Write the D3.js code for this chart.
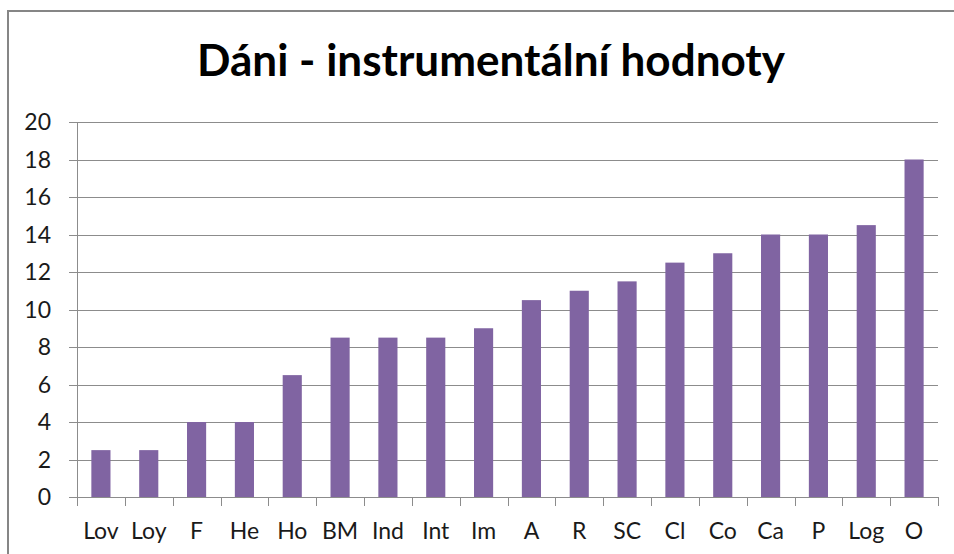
<!DOCTYPE html>
<html>
<head>
<meta charset="utf-8">
<script src="https://cdn.jsdelivr.net/npm/d3@7"></script>
<style>
  body { margin: 0; background: #fff; }
  svg { display: block; font-family: Lato, "Open Sans", sans-serif; }
</style>
</head>
<body>
<div id="chart"></div>
<script>
// data
const categories = ["Lov", "Loy", "F", "He", "Ho", "BM", "Ind", "Int", "Im", "A", "R", "SC", "Cl", "Co", "Ca", "P", "Log", "O"];
const values = [2.5, 2.5, 4, 4, 6.5, 8.5, 8.5, 8.5, 9, 10.5, 11, 11.5, 12.5, 13, 14, 14, 14.5, 18];
const yTicks = [0, 2, 4, 6, 8, 10, 12, 14, 16, 18, 20];
const title = "Dáni - instrumentální hodnoty";

const width = 954;
const height = 554;
const margin = {top: 122, right: 16, bottom: 57, left: 77};

const svg = d3.select("#chart").append("svg")
    .attr("width", width)
    .attr("height", height);

// outer chart border
svg.append("rect")
    .attr("x", 8)
    .attr("y", 11)
    .attr("width", 980)
    .attr("height", 600)
    .attr("fill", "none")
    .attr("stroke", "#868686")
    .attr("stroke-width", 2);

const x = d3.scaleBand()
    .domain(categories)
    .range([margin.left, width - margin.right])
    .paddingInner(0.6)
    .paddingOuter(0.3);

const y = d3.scaleLinear()
    .domain([0, 20])
    .range([height - margin.bottom, margin.top]);

// gridlines
svg.append("g")
    .selectAll("line")
    .data(yTicks)
    .join("line")
    .attr("x1", margin.left - 8)
    .attr("x2", width - margin.right)
    .attr("y1", d => Math.round(y(d)) + 0.5)
    .attr("y2", d => Math.round(y(d)) + 0.5)
    .attr("stroke", "#8c8c8c")
    .attr("stroke-width", 1);

// y labels
svg.append("g")
    .selectAll("text")
    .data(yTicks)
    .join("text")
    .attr("x", 51)
    .attr("y", d => y(d))
    .attr("dy", "0.35em")
    .attr("text-anchor", "end")
    .attr("font-size", 23)
    .attr("fill", "#1a1a1a")
    .text(d => d);

// bars
svg.append("g")
    .selectAll("rect")
    .data(values)
    .join("rect")
    .attr("x", (d, i) => x(categories[i]))
    .attr("y", d => y(d))
    .attr("width", x.bandwidth())
    .attr("height", d => y(0) - y(d))
    .attr("fill", "#8064a2");

// y axis line
svg.append("line")
    .attr("x1", margin.left + 0.5)
    .attr("x2", margin.left + 0.5)
    .attr("y1", margin.top)
    .attr("y2", y(0))
    .attr("stroke", "#8c8c8c");

// x axis ticks between categories
const step = x.step();
const x0 = x(categories[0]) - x.paddingOuter() * step;
svg.append("g")
    .selectAll("line")
    .data(d3.range(categories.length + 1))
    .join("line")
    .attr("x1", i => Math.round(x0 + i * step) + 0.5)
    .attr("x2", i => Math.round(x0 + i * step) + 0.5)
    .attr("y1", y(0))
    .attr("y2", y(0) + 9)
    .attr("stroke", "#8c8c8c");

// x labels
svg.append("g")
    .selectAll("text")
    .data(categories)
    .join("text")
    .attr("x", d => x(d) + x.bandwidth() / 2)
    .attr("y", 539)
    .attr("text-anchor", "middle")
    .attr("font-size", 23)
    .attr("fill", "#1a1a1a")
    .text(d => d);

// title, sized to span the same width as the reference
const t = svg.append("text")
    .attr("x", 491)
    .attr("y", 76)
    .attr("text-anchor", "middle")
    .attr("font-weight", "bold")
    .attr("font-size", 44)
    .attr("fill", "#000")
    .text(title);
const w = t.node().getComputedTextLength();
t.attr("font-size", 44 * 588 / w);
</script>
</body>
</html>
